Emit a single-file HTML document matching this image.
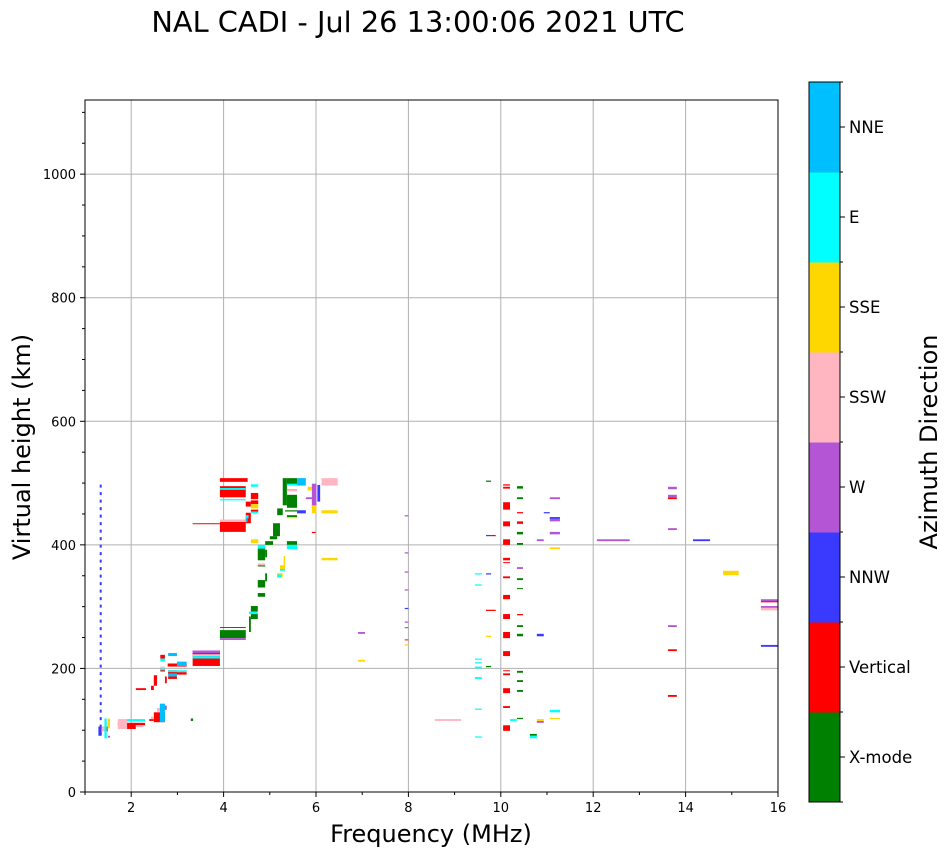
<!DOCTYPE html>
<html><head><meta charset="utf-8"><style>
html,body{margin:0;padding:0;background:#fff;}
svg{display:block;font-family:"DejaVu Sans","Liberation Sans",sans-serif;}
</style></head><body>
<svg id="chart" width="951" height="856" viewBox="0 0 951 856" xmlns="http://www.w3.org/2000/svg">
<text x="418" y="32" font-size="28.8" text-anchor="middle">NAL CADI - Jul 26 13:00:06 2021 UTC</text>
<g id="grid"></g>
<g id="marks"></g>
<rect x="85" y="100" width="693" height="692" fill="none" stroke="#000" stroke-width="1"/>
<g id="axes"></g>
<text x="431" y="842" font-size="24" text-anchor="middle">Frequency (MHz)</text>
<text transform="translate(30,447) rotate(-90)" font-size="24" text-anchor="middle">Virtual height (km)</text>
<g id="cbar"></g>
<text transform="translate(937,442) rotate(-90)" font-size="24" text-anchor="middle">Azimuth Direction</text>
</svg>
<script>
// ---- data ----
const directions = ["X-mode","Vertical","NNW","W","SSW","SSE","E","NNE"];
const dirColors = ["#008000","#ff0000","#3a3aff","#b455d6","#ffb6c1","#ffd700","#00ffff","#00bfff"];
const xTicks = [2,4,6,8,10,12,14,16];
const yTicks = [0,200,400,600,800,1000];
// rows: [fStart MHz, fEnd MHz, hLow km, hHigh km]
const xmode = [
 [5.37,5.59,498,508],[5.28,5.37,464,508],[5.37,5.59,460,481],[5.37,5.59,487,490],[5.33,5.59,454,456],[5.37,5.59,445,448],
 [5.16,5.28,448,459],[5.07,5.22,414,435],[5.00,5.16,409,414],[4.90,5.07,400,406],[4.74,4.90,375,394],[4.90,4.94,380,392],
 [4.74,4.90,365,367],[4.90,4.94,341,354],[4.74,4.90,331,343],[4.74,4.90,316,322],[4.59,4.74,292,301],[4.59,4.74,280,288],
 [4.55,4.59,259,284],[3.92,4.48,249,262],[3.92,4.48,266,267],[5.37,5.59,400,406],[3.29,3.34,115,119],
 [9.68,9.79,502,504],[9.68,9.79,202,204],
 [10.35,10.48,491,495],[10.35,10.48,474,477],[10.35,10.48,417,421],[10.35,10.48,400,403],[10.35,10.48,343,346],[10.35,10.48,329,330],
 [10.35,10.48,267,270],[10.35,10.48,252,256],[10.35,10.48,193,196],[10.35,10.48,178,181],[10.35,10.48,162,165],[10.35,10.48,118,120],
 [10.63,10.78,91,94]
];
const vertical = [
 [3.92,4.52,502,508],[3.92,4.48,477,495],[3.92,4.48,421,437],[3.33,3.92,434,435],
 [4.59,4.75,474,484],[4.59,4.75,466,472],[4.59,4.75,454,457],[4.48,4.59,462,470],[4.48,4.59,435,452],
 [5.91,5.99,419,421],[3.33,3.92,204,229],[2.79,3.20,203,208],[2.80,2.99,192,197],[2.80,3.20,190,194],[2.80,2.99,183,187],
 [2.63,2.73,216,222],[2.63,2.73,195,200],[2.73,2.77,176,187],[2.49,2.56,172,189],[2.43,2.49,165,172],[2.10,2.32,165,168],
 [1.71,2.30,108,112],[1.91,2.10,102,110],[2.49,2.73,113,129],[2.39,2.49,115,118],[1.45,1.49,98,106],
 [9.79,9.89,414,416],[9.68,9.89,293,295],
 [10.05,10.20,496,498],[10.05,10.20,491,494],[10.05,10.20,457,469],[10.05,10.20,430,438],[10.05,10.20,400,409],[10.05,10.20,375,379],
 [10.05,10.20,371,372],[10.05,10.20,346,349],[10.05,10.20,312,319],[10.05,10.20,280,288],[10.05,10.20,249,259],[10.05,10.20,220,228],
 [10.05,10.20,196,197],[10.05,10.20,189,192],[10.05,10.20,160,168],[10.05,10.20,136,139],[10.05,10.20,99,108],
 [10.35,10.48,451,453],[10.35,10.48,434,438],[10.35,10.48,286,288],
 [13.62,13.81,474,477],[13.62,13.81,228,231],[13.62,13.81,154,157],[15.63,16.0,307,309],[7.92,8.0,246,247]
];
const nnw = [
 [5.59,5.78,451,456],[6.03,6.09,470,497],[10.78,10.93,252,256],[11.06,11.28,442,445],[10.93,11.06,451,453],
 [14.16,14.53,406,409],[15.63,16.0,235,238],[9.68,9.79,352,354],[9.68,9.79,414,416],[7.92,8.0,296,298],
 [3.33,3.92,223,225],[1.29,1.36,91,106],[2.63,2.71,133,136]
];
const west = [
 [5.78,5.98,474,477],[5.91,6.01,460,499],[6.91,7.06,256,259],[3.92,4.48,246,249],[3.33,3.92,225,229],[2.71,2.77,133,140],
 [1.49,1.54,88,91],[7.92,8.0,446,448],[7.92,8.0,386,388],[7.92,8.0,355,357],[7.92,8.0,326,328],[7.92,8.0,274,276],[7.92,8.0,265,267],
 [10.35,10.48,361,364],[10.78,10.93,406,409],[10.78,10.93,112,115],[11.06,11.28,474,477],[11.06,11.28,438,442],[11.06,11.28,417,421],
 [12.08,12.79,406,409],[13.62,13.81,490,494],[13.62,13.81,477,481],[13.62,13.81,424,427],[13.62,13.81,267,270],
 [15.63,16.0,309,312],[15.63,16.0,298,301]
];
const ssw = [
 [3.92,4.48,437,441],[6.12,6.47,496,508],[4.74,4.90,367,370],[3.33,3.92,220,223],[2.63,2.73,200,203],
 [1.71,1.91,102,118],[2.10,2.26,105,108],[2.56,2.62,130,136],[2.43,2.49,118,122],[1.36,1.42,98,106],
 [8.57,9.14,115,118],[15.63,16.0,294,298],[5.37,5.59,487,490]
];
const sse = [
 [4.59,4.75,459,466],[4.59,4.75,403,409],[5.37,5.59,443,445],[6.12,6.47,451,456],[6.12,6.47,375,379],[5.82,5.91,488,494],
 [5.91,6.01,451,464],[5.30,5.33,367,382],[5.22,5.33,361,367],[5.16,5.28,348,354],[6.91,7.06,211,214],[1.49,1.54,103,119],
 [9.68,9.79,251,253],[7.92,8.0,237,239],[10.78,10.93,115,118],[11.06,11.28,393,396],[11.06,11.28,118,120],[14.81,15.15,351,358]
];
const east = [
 [3.92,4.48,472,474],[3.92,4.48,489,492],[4.59,4.75,494,498],[4.59,4.75,451,454],[4.48,4.54,443,448],[4.74,4.90,394,400],
 [5.37,5.59,393,400],[4.55,4.74,288,292],[5.22,5.33,358,361],[5.16,5.26,347,352],[5.37,5.59,496,499],
 [3.33,3.92,216,220],[2.80,3.20,194,197],[2.63,2.73,211,216],[2.63,2.73,197,200],[1.91,2.30,114,118],[1.42,1.47,87,119],
 [9.44,9.59,352,354],[9.44,9.59,334,336],[9.44,9.59,214,216],[9.44,9.59,208,210],[9.44,9.59,200,203],[9.44,9.59,183,186],
 [9.44,9.59,133,135],[9.44,9.59,88,90],[10.20,10.35,115,118],[10.63,10.78,87,91],[11.06,11.28,129,133]
];
const nne = [
 [5.59,5.78,496,508],[2.80,2.99,220,225],[2.99,3.20,204,211],[2.80,2.99,187,192],[2.62,2.73,113,143],[4.48,4.52,437,443]
];
const dottedLine = [1.34, 92, 498]; // freq, hLow, hHigh
const seriesByDir = [xmode, vertical, nnw, west, ssw, sse, east, nne];

// ---- scales ----
const X0=85, X1=778, Y0=792, Y1=100, FMIN=1, FMAX=16, HMIN=0, HMAX=1120;
const xs = f => X0 + (f-FMIN)/(FMAX-FMIN)*(X1-X0);
const ys = h => Y0 - (h-HMIN)/(HMAX-HMIN)*(Y0-Y1);
const NS="http://www.w3.org/2000/svg";
function mk(tag, attrs, parent){const e=document.createElementNS(NS,tag);for(const k in attrs)e.setAttribute(k,attrs[k]);parent.appendChild(e);return e;}

const grid=document.getElementById('grid'), axes=document.getElementById('axes'), marks=document.getElementById('marks'), cbar=document.getElementById('cbar');
xTicks.forEach(t=>{
  const l=mk('line',{x1:xs(t),x2:xs(t),y1:Y1,y2:Y0,stroke:'#b0b0b0','stroke-width':1},grid);
  
  
  mk('line',{x1:xs(t),x2:xs(t),y1:Y0,y2:Y0+5,stroke:'#000'},axes);
  const tx=mk('text',{x:xs(t),y:Y0+20,'font-size':13,'text-anchor':'middle'},axes);tx.textContent=t;
  
  
});
for(let f=1;f<=16;f+=2){mk('line',{x1:xs(f),x2:xs(f),y1:Y0,y2:Y0+3,stroke:'#000'},axes);}
yTicks.forEach(t=>{
  const l=mk('line',{x1:X0,x2:X1,y1:ys(t),y2:ys(t),stroke:'#b0b0b0','stroke-width':1},grid);
  
  
  mk('line',{x1:X0-5,x2:X0,y1:ys(t),y2:ys(t),stroke:'#000'},axes);
  const tx=mk('text',{x:X0-9,y:ys(t)+5,'font-size':13,'text-anchor':'end'},axes);tx.textContent=t;
  
  
});
for(let h=50;h<HMAX;h+=50){if(h%200)mk('line',{x1:X0-3,x2:X0,y1:ys(h),y2:ys(h),stroke:'#000'},axes);}

// marks
seriesByDir.forEach((rows,di)=>{
  rows.forEach(r=>{
    const x=xs(r[0]), w=Math.max(1,xs(r[1])-xs(r[0])), y=ys(r[3]), hh=Math.max(1,ys(r[2])-ys(r[3]));
    const rc=mk('rect',{x:x,y:y,width:w,height:hh,fill:dirColors[di]},marks);
    
    
  });
});
const dl=mk('line',{x1:xs(dottedLine[0]),x2:xs(dottedLine[0]),y1:ys(dottedLine[1]),y2:ys(dottedLine[2]),stroke:dirColors[2],'stroke-width':2,'stroke-dasharray':'3 4.5'},marks);



// colorbar
const CX=809, CW=31, CT=82, CB=802, seg=(CB-CT)/directions.length;
directions.forEach((d,i)=>{
  const y=CB-(i+1)*seg;
  const r=mk('rect',{x:CX,y:y,width:CW,height:seg+0.5,fill:dirColors[i]},cbar);
  
  
  mk('line',{x1:CX+CW,x2:CX+CW+5,y1:y+seg/2,y2:y+seg/2,stroke:'#000'},cbar);
  mk('line',{x1:CX+CW,x2:CX+CW+3,y1:y,y2:y,stroke:'#000'},cbar);
  const t=mk('text',{x:CX+CW+9,y:y+seg/2+6,'font-size':16.5},cbar);t.textContent=d;
  
  
});
mk('line',{x1:CX+CW,x2:CX+CW+3,y1:CB,y2:CB,stroke:'#000'},cbar);
mk('rect',{x:CX,y:CT,width:CW,height:CB-CT,fill:'none',stroke:'#000'},cbar);
</script>
</body></html>
